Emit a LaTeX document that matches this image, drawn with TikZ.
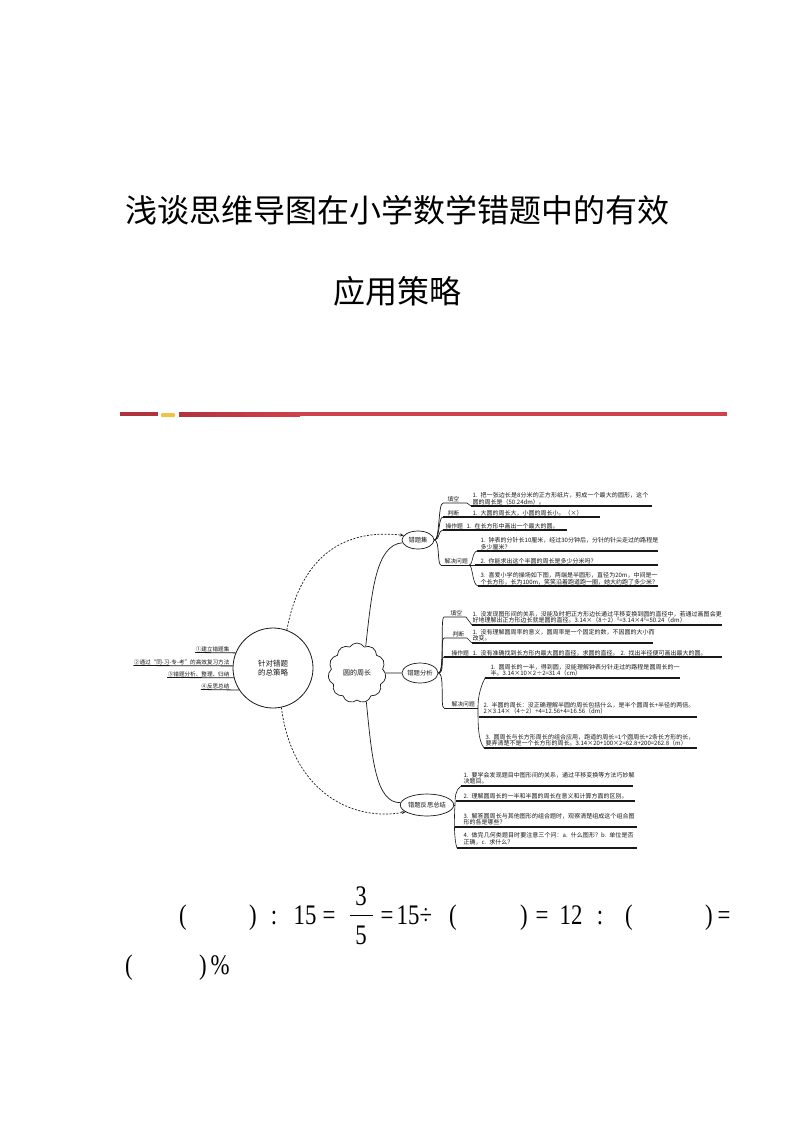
\documentclass[tikz,border=0pt]{standalone}
\usepackage{fontspec}
\setmainfont{Liberation Serif}
\newfontfamily\cjk{Noto Sans CJK SC}
\XeTeXlinebreaklocale "zh"
\XeTeXlinebreakskip = 0pt plus 0.5pt
\usetikzlibrary{shapes.symbols,shapes.geometric,arrows.meta}
\definecolor{redline}{RGB}{206,66,76}
\definecolor{darkred}{RGB}{178,50,62}
\definecolor{gold}{RGB}{238,196,72}
\definecolor{ink}{RGB}{25,25,25}
\newcommand\fmtall[1]{\scalebox{0.95}[1.18]{#1}}
\tikzset{
  leaf/.style={anchor=south west, inner sep=0.4pt, align=left, text=ink, font=\cjk\fontsize{6}{6.8}\selectfont},
  lab/.style={anchor=south west, inner sep=0.4pt, text=ink, font=\cjk\fontsize{5.8}{6.4}\selectfont},
  llab/.style={anchor=south east, inner sep=0.4pt, text=ink, font=\cjk\fontsize{5.6}{6.2}\selectfont},
  ul/.style={line width=1.1pt, draw=ink},
  thin/.style={line width=0.6pt, draw=ink},
  oval/.style={ellipse, draw=ink, line width=0.7pt, inner sep=0pt, text=ink, font=\cjk\fontsize{6.3}{7}\selectfont},
  link/.style={line width=0.7pt, draw=ink},
  dlink/.style={line width=0.7pt, draw=ink, dash pattern=on 2pt off 1.5pt, -{Stealth[length=4pt,width=3pt]}},
  fm/.style={anchor=base, inner sep=0pt, font=\fontsize{24}{24}\selectfont},
}
\begin{document}
\begin{tikzpicture}[x=1pt,y=-1pt]
\useasboundingbox (0,0) rectangle (793,1122);
\fill[white] (0,0) rectangle (793,1122);

% title
\node[inner sep=0, font=\cjk\fontsize{32}{32}\selectfont] (title1) at (397,210) {浅谈思维导图在小学数学错题中的有效};
\node[inner sep=0, font=\cjk\fontsize{32}{32}\selectfont] (title2) at (397,291) {应用策略};

% red rule
\fill[darkred] (120,412) rectangle (158,416);
\fill[gold, rounded corners=1pt] (161,413) rectangle (175,417);
\shade[left color=darkred, right color=redline] (179,412) rectangle (300,416);
\fill[redline] (300,412) rectangle (727,416);

% central circle
\node[circle, draw=ink, line width=0.8pt, minimum size=80, inner sep=0, align=center, text=ink, font=\cjk\fontsize{7.5}{8.5}\selectfont] (O) at (273,668) {针对错题\\的总策略};

% left branches
\node[llab] (L1) at (230,652.5) {①建立错题集};
\draw[thin, line width=0.8pt] (L1.south west) -- (O.158);
\node[llab] (L2) at (230,665.5) {②通过“同-习-专-考”的高效复习方法};
\draw[thin, line width=0.8pt] (L2.south west) -- (O.177);
\node[llab] (L3) at (230,677.5) {③错题分析、整理、归纳};
\draw[thin, line width=0.8pt] (L3.south west) -- (O.194);
\node[llab] (L4) at (230,689.5) {④反思总结};
\draw[thin, line width=0.8pt] (L4.south west) -- (O.213);

% cloud
\node[cloud, draw=ink, line width=0.7pt, cloud puffs=11, cloud puff arc=115, aspect=1, minimum width=58, minimum height=60, inner sep=0, text=ink, font=\cjk\fontsize{7}{8}\selectfont] (Y) at (357,673) {圆的周长};

% sub nodes
\node[oval, minimum width=32, minimum height=18] (A) at (418,540) {错题集};
\node[oval, minimum width=36, minimum height=20] (B) at (420,673) {错题分析};
\node[oval, minimum width=48, minimum height=22] (C) at (427,805) {错题反思总结};

\draw[link] (Y.72) .. controls (372,590) and (376,545) .. (A.190);
\draw[link] (Y.east) -- (B.west);
\draw[link] (Y.-72) .. controls (372,760) and (376,803) .. (C.175);
\draw[dlink] (O.70) .. controls (300,560) and (340,528) .. (A.162);
\draw[dlink] (O.-78) .. controls (292,790) and (350,822) .. (C.198);

% ---- branch A
\coordinate (a1) at (443,503);
\coordinate (a2) at (443,517);
\coordinate (a3) at (443,530);
\coordinate (a4) at (441,565);
\draw[link] (A.east) .. controls (440,540) and (438,503) .. (a1);
\draw[link] (A.east) .. controls (440,540) and (438,517) .. (a2);
\draw[link] (A.east) .. controls (440,540) and (438,530) .. (a3);
\draw[link] (A.east) .. controls (440,540) and (437,565) .. (a4);

\node[lab] (A1) at (447,502.5) {填空};
\draw[thin] (a1) -- (467,503) -- (471,506);
\draw[ul] (471,506) -- (652,506);
\node[leaf, text width=178] (A1t) at (472,505.5) {1. 把一张边长是8分米的正方形纸片，剪成一个最大的圆形，这个圆的周长是（50.24dm）。};

\node[lab] (A2) at (447,516.5) {判断};
\draw[ul] (a2) -- (600,517);
\node[leaf, text width=130] (A2t) at (472,516.5) {1. 大圆的周长大，小圆的周长小。（×）};

\node[lab] (A3) at (445,529.5) {操作题};
\draw[ul] (a3) -- (567,530);
\node[leaf, text width=105] (A3t) at (466,529.5) {1. 在长方形中画出一个最大的圆。};

\node[lab] (A4) at (444,564.5) {解决问题};
\coordinate (a4b) at (469,565);
\draw[thin] (a4) -- (a4b);
\draw[thin] (a4b) .. controls (473,565) and (472,552) .. (477,551);
\draw[thin] (a4b) -- (475,565);
\draw[thin] (a4b) .. controls (473,565) and (472,585) .. (478,586);
\draw[ul] (477,551) -- (658,551);
\draw[ul] (475,565) -- (658,565);
\draw[ul] (478,586) -- (658,586);
\node[leaf, text width=178] (A41) at (480,550.5) {1. 钟表的分针长10厘米，经过30分钟后，分针的针尖走过的路程是多少厘米？};
\node[leaf, text width=178] (A42) at (480,564.5) {2. 你能求出这个半圆的周长是多少分米吗？};
\node[leaf, text width=178] (A43) at (480,585.5) {3. 喜爱小学的操场如下图，两端是半圆形，直径为20m，中间是一个长方形，长为100m，笑笑沿着跑道跑一圈，她大约跑了多少米？};

% ---- branch B
\coordinate (b1) at (444,617);
\coordinate (b2) at (444,638);
\coordinate (b3) at (444,657);
\coordinate (b4) at (444,708);
\draw[link] (B.east) .. controls (445,673) and (440,617) .. (b1);
\draw[link] (B.east) .. controls (445,673) and (440,638) .. (b2);
\draw[link] (B.east) .. controls (445,673) and (440,657) .. (b3);
\draw[link] (B.east) .. controls (445,673) and (440,708) .. (b4);

\node[lab] (B1) at (450,616.5) {填空};
\draw[thin] (b1) -- (466,617) -- (472,625);
\draw[ul] (472,625) -- (722,625);
\node[leaf, text width=250] (B1t) at (472,624) {1. 没发现图形间的关系，没能及时把正方形边长通过平移变换到圆的直径中，若通过画图会更好地理解出正方形边长就是圆的直径。3.14×（8÷2）²=3.14×4²=50.24（dm）};

\node[lab] (B2) at (452,637.5) {判断};
\draw[thin] (b2) -- (467,638) -- (472,643);
\draw[ul] (472,643) -- (653,643);
\node[leaf, text width=182] (B2t) at (472,642) {1. 没有理解圆周率的意义，圆周率是一个固定的数，不因圆的大小而改变。};

\node[lab] (B3) at (451,656.5) {操作题};
\draw[ul] (b3) -- (722,657);
\node[leaf, text width=252] (B3t) at (472,656.5) {1. 没有准确找到长方形内最大圆的直径，求圆的直径。 2. 找出半径便可画出最大的圆。};

\node[lab] (B4) at (451,707.5) {解决问题};
\coordinate (b4b) at (478,708);
\draw[thin] (b4) -- (b4b);
\draw[thin] (485,678) .. controls (479,690) and (478,700) .. (b4b) .. controls (478,725) and (478,740) .. (484,748);
\draw[ul] (485,678) -- (680,678);
\draw[ul] (479,717) -- (697,717);
\draw[ul] (484,748) -- (697,748);
\node[leaf, text width=190] (B41) at (490,677) {1. 圆周长的一半，得到圆，没能理解钟表分针走过的路程是圆周长的一半。3.14×10×2÷2=31.4（cm）};
\node[leaf, text width=212] (B42) at (483,715) {2. 半圆的周长：没正确理解半圆的周长包括什么，是半个圆周长+半径的两倍。2×3.14×（4÷2）+4=12.56+4=16.56（dm）};
\node[leaf, text width=210] (B43) at (485,747) {3. 圆周长与长方形周长的组合应用，跑道的周长=1个圆周长+2条长方形的长，要弄清楚不是一个长方形的周长。3.14×20+100×2=62.8+200=262.8（m）};

% ---- branch C
\coordinate (cb) at (455,805);
\draw[thin] (C.east) -- (cb);
\draw[thin] (461,786) .. controls (455,790) and (455,798) .. (cb) .. controls (454,820) and (454,840) .. (457,848);
\draw[ul] (461,786) -- (633,786);
\draw[ul] (456,801) -- (635,801);
\draw[ul] (455,827) -- (637,827);
\draw[ul] (457,848) -- (637,848);
\node[leaf, text width=172] (C1) at (463,785) {1. 要学会发现题目中图形间的关系，通过平移变换等方法巧妙解决题目。};
\node[leaf, text width=172] (C2) at (463,800) {2. 理解圆周长的一半和半圆的周长在意义和计算方面的区别。};
\node[leaf, text width=172] (C3) at (463,826) {3. 解答圆周长与其他图形的组合题时，观察清楚组成这个组合图形的各是哪些？};
\node[leaf, text width=172] (C4) at (463,846) {4. 做完几何类题目时要注意三个问：a. 什么图形？b. 单位是否正确，c. 求什么？};

% ---- formula
\node[fm] (f1) at (183,924) {\fmtall{(}};
\node[fm] (f2) at (253,924) {\fmtall{)}};
\node[fm] (f3) at (274,924) {\fmtall{:}};
\node[fm] (f4) at (305,924) {\fmtall{15}};
\node[fm] (f5) at (329,924) {\fmtall{=}};
\node[fm] (fn) at (361,905) {\fmtall{3}};
\node[fm] (fd) at (361,944) {\fmtall{5}};
\draw[line width=0.9pt] (350,915) -- (373,915);
\node[fm] (f6) at (387,924) {\fmtall{=}};
\node[fm] (f7) at (408,924) {\fmtall{15}};
\node[fm] (f8) at (426,924) {\fmtall{÷}};
\node[fm] (f9) at (453,924) {\fmtall{(}};
\node[fm] (f10) at (524,924) {\fmtall{)}};
\node[fm] (f11) at (542,924) {\fmtall{=}};
\node[fm] (f12) at (571,924) {\fmtall{12}};
\node[fm] (f13) at (600,924) {\fmtall{:}};
\node[fm] (f14) at (629,924) {\fmtall{(}};
\node[fm] (f15) at (709,924) {\fmtall{)}};
\node[fm] (f16) at (724,924) {\fmtall{=}};
\node[fm] (g1) at (129,974) {\fmtall{(}};
\node[fm] (g2) at (203,974) {\fmtall{)}};
\node[fm] (g3) at (220,974) {\fmtall{\%}};
\end{tikzpicture}
\end{document}
